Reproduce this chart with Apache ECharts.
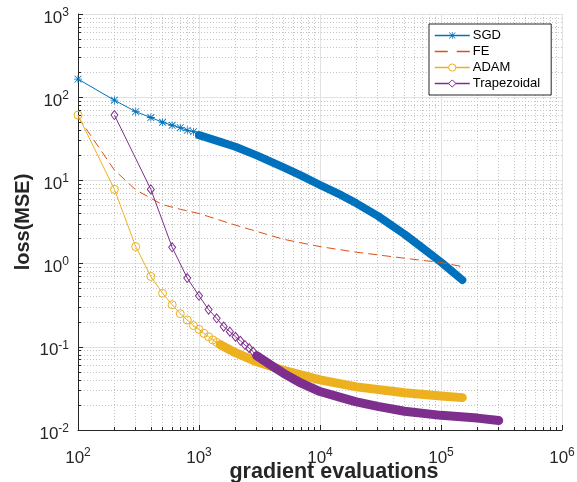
<!DOCTYPE html>
<html>
<head>
<meta charset="utf-8">
<script src="https://cdn.jsdelivr.net/npm/echarts@6/dist/echarts.min.js"></script>
<style>
html, body { margin: 0; padding: 0; background: #ffffff; }
#lossChart { width: 577px; height: 482px; }
</style>
</head>
<body>
<div id="lossChart"></div>
<script>
// values (x = gradient evaluations, y = loss)
const sgdX = [100, 200, 300, 400, 500, 600, 700, 800, 900, 1000, 1500, 2000, 3000, 5000, 7000, 10000, 15000, 20000, 30000, 50000, 70000, 100000, 150000]
const sgdY = [165, 92, 67, 57, 50, 46, 43, 40, 38.5, 35, 29, 25.4, 20.0, 14.3, 11.4, 8.8, 6.65, 5.3, 3.75, 2.25, 1.55, 1.04, 0.635]

const feX = [100, 200, 300, 400, 500, 700, 1000, 2000, 5000, 10000, 20000, 50000, 100000, 150000]
const feY = [58, 13.3, 7.7, 6.1, 5.1, 4.5, 4.0, 2.9, 1.96, 1.6, 1.37, 1.16, 1.03, 0.92]

const adamX = [100, 200, 300, 400, 500, 600, 700, 800, 900, 1000, 1100, 1200, 1300, 1400, 1500, 2000, 3000, 5000, 10000, 20000, 50000, 100000, 150000]
const adamY = [61, 7.8, 1.6, 0.70, 0.44, 0.32, 0.25, 0.21, 0.18, 0.162, 0.145, 0.132, 0.121, 0.113, 0.106, 0.085, 0.066, 0.052, 0.040, 0.033, 0.028, 0.0257, 0.0245]

const trapX = [200, 400, 600, 800, 1000, 1200, 1400, 1600, 1800, 2000, 2200, 2400, 2600, 2800, 3000, 4000, 5000, 7000, 10000, 15000, 20000, 30000, 50000, 100000, 200000, 300000]
const trapY = [61, 7.8, 1.57, 0.67, 0.41, 0.28, 0.22, 0.175, 0.152, 0.132, 0.118, 0.105, 0.096, 0.0875, 0.078, 0.059, 0.048, 0.0365, 0.029, 0.0245, 0.0218, 0.0192, 0.0168, 0.0150, 0.0139, 0.0130]

const legendNames = ["SGD", "FE", "ADAM", "Trapezoidal"]
const xTicks = [100, 1000, 10000, 100000, 1000000]
const yTicks = [0.01, 0.1, 1, 10, 100, 1000]

// where the markers get so dense they merge into a solid band
const sgdBandFrom = 1000
const adamBandFrom = 1500
const trapBandFrom = 3000

const colors = { sgd: "#0072BD", fe: "#D95319", adam: "#EDB120", trap: "#7E2F8E" }
const axisColor = "#262626"

// minor ticks 2..9 inside each decade
function minorTicks(lo, hi) {
	let out = []
	for (let d = lo; d < hi; d *= 10) {
		for (let k = 2; k <= 9; k++) out.push(+(k * d).toPrecision(3))
	}
	return out
}

function pairs(xs, ys) {
	return xs.map((x, i) => [x, ys[i]])
}

function markerData(xs, ys, limit) {
	return xs.map((x, i) => (x <= limit ? [x, ys[i]] : { value: [x, ys[i]], symbol: "none" }))
}

function bandData(xs, ys, from) {
	return pairs(xs, ys).filter((p) => p[0] >= from)
}

const starPath =
	"path://M9 0L11 0L11 20L9 20Z M0 9L20 9L20 11L0 11Z M2.2 0.8L19.2 17.8L17.8 19.2L0.8 2.2Z M17.8 0.8L19.2 2.2L2.2 19.2L0.8 17.8Z"

function supLabel(extra) {
	return Object.assign(
		{
			formatter: function (v) {
				return "{b|10}{s|" + Math.round(Math.log10(v)) + "}"
			},
			rich: {
				b: { fontSize: 17, color: axisColor, fontFamily: "Liberation Sans", verticalAlign: "bottom", lineHeight: 17 },
				s: { fontSize: 12, color: axisColor, fontFamily: "Liberation Sans", verticalAlign: "bottom", lineHeight: 12, padding: [0, 0, 8, 0] },
			},
		},
		extra
	)
}

function majorAxis(min, max, ticks, labelExtra, extra) {
	return Object.assign(
		{
			type: "log",
			logBase: 10,
			min: min,
			max: max,
			axisLine: { show: true, lineStyle: { color: axisColor, width: 1 } },
			axisTick: { show: true, inside: true, length: 5, customValues: ticks, lineStyle: { color: axisColor } },
			axisLabel: supLabel(Object.assign({ customValues: ticks }, labelExtra)),
			splitLine: { show: true, lineStyle: { color: "#e2e2e2", width: 1 } },
			minorTick: { show: false },
		},
		extra
	)
}

function minorAxis(min, max, ticks, extra) {
	return Object.assign(
		{
			type: "log",
			logBase: 10,
			min: min,
			max: max,
			axisLine: { show: false },
			axisTick: { show: true, inside: true, length: 3, customValues: ticks, lineStyle: { color: axisColor } },
			axisLabel: { show: false },
			splitLine: { show: true, lineStyle: { color: "#c4c4c4", width: 1, type: [1, 2] } },
		},
		extra
	)
}

let myChart = echarts.init(document.getElementById("lossChart"))

let option = {
	animation: false,
	backgroundColor: "#ffffff",
	textStyle: { fontFamily: "Liberation Sans" },
	grid: { left: 78, right: 15, top: 14, bottom: 52, containLabel: false, outerBoundsMode: "none" },
	legend: {
		data: [
			{ name: legendNames[0], lineStyle: { color: colors.sgd, width: 1.5 } },
			{ name: legendNames[1], itemStyle: { opacity: 0 }, lineStyle: { color: colors.fe, width: 1.5, type: [13, 9] } },
			{ name: legendNames[2], lineStyle: { color: colors.adam, width: 1.5 }, itemStyle: { color: "#ffffff", borderColor: colors.adam, borderWidth: 1 } },
			{ name: legendNames[3], lineStyle: { color: colors.trap, width: 1.5 }, itemStyle: { color: "#ffffff", borderColor: colors.trap, borderWidth: 1 } },
		],
		orient: "vertical",
		left: 429,
		top: 24,
		itemWidth: 35,
		itemHeight: 9,
		itemGap: 3,
		padding: [5, 11, 5, 5],
		backgroundColor: "#ffffff",
		borderColor: axisColor,
		borderWidth: 1,
		borderRadius: 0,
		textStyle: { fontSize: 13, color: "#000000", fontFamily: "Liberation Sans", padding: [0, 0, 0, -2] },
	},
	xAxis: [
		majorAxis(100, 1000000, xTicks, { margin: 20 }, {
			position: "bottom",
			name: "gradient evaluations",
			nameLocation: "middle",
			nameGap: 31,
			nameMoveOverlap: false,
			nameTextStyle: { fontSize: 21.5, fontWeight: "bold", color: axisColor, fontFamily: "Liberation Sans", padding: [0, 0, 0, 28] },
		}),
		minorAxis(100, 1000000, minorTicks(100, 1000000), { position: "bottom", offset: 0 }),
	],
	yAxis: [
		majorAxis(0.01, 1000, yTicks, { margin: 9, padding: [8, 0, 0, 0] }, {
			position: "left",
			name: "loss(MSE)",
			nameLocation: "middle",
			nameGap: 45,
			nameMoveOverlap: false,
			nameTextStyle: { fontSize: 20, fontWeight: "bold", color: axisColor, fontFamily: "Liberation Sans" },
		}),
		minorAxis(0.01, 1000, minorTicks(0.01, 1000), { position: "left", offset: 0 }),
	],
	series: [
		{
			name: "SGD",
			type: "line",
			data: markerData(sgdX, sgdY, sgdBandFrom),
			symbol: starPath,
			symbolSize: 8,
			showAllSymbol: true,
			color: colors.sgd,
			lineStyle: { color: colors.sgd, width: 1 },
			itemStyle: { color: colors.sgd },
			z: 3,
		},
		{
			name: "SGD band",
			type: "line",
			data: bandData(sgdX, sgdY, sgdBandFrom),
			symbol: "none",
			lineStyle: { color: colors.sgd, width: 8, cap: "round", join: "round" },
			z: 3,
		},
		{
			name: "FE",
			type: "line",
			data: pairs(feX, feY),
			symbol: "none",
			color: colors.fe,
			lineStyle: { color: colors.fe, width: 1, type: [9, 5] },
			z: 4,
		},
		{
			name: "ADAM",
			type: "line",
			data: markerData(adamX, adamY, adamBandFrom),
			symbol: "circle",
			symbolSize: 8,
			showAllSymbol: true,
			color: colors.adam,
			lineStyle: { color: colors.adam, width: 1 },
			itemStyle: { color: "rgba(255,255,255,0)", borderColor: colors.adam, borderWidth: 1 },
			z: 5,
		},
		{
			name: "ADAM band",
			type: "line",
			data: bandData(adamX, adamY, adamBandFrom),
			symbol: "none",
			lineStyle: { color: colors.adam, width: 9, cap: "round", join: "round" },
			z: 5,
		},
		{
			name: "Trapezoidal",
			type: "line",
			data: markerData(trapX, trapY, trapBandFrom),
			symbol: "diamond",
			symbolSize: [7, 9],
			showAllSymbol: true,
			color: colors.trap,
			lineStyle: { color: colors.trap, width: 1 },
			itemStyle: { color: "rgba(255,255,255,0)", borderColor: colors.trap, borderWidth: 1 },
			z: 6,
		},
		{
			name: "Trapezoidal band",
			type: "line",
			data: bandData(trapX, trapY, trapBandFrom),
			symbol: "none",
			lineStyle: { color: colors.trap, width: 9, cap: "round", join: "round" },
			z: 6,
		},
	],
}

myChart.setOption(option)
</script>
</body>
</html>
